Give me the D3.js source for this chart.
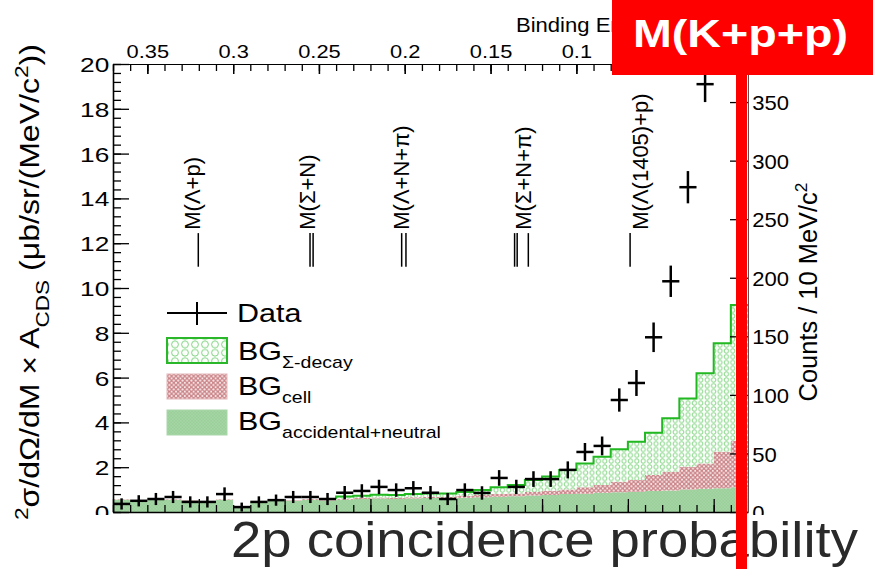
<!DOCTYPE html>
<html>
<head>
<meta charset="utf-8">
<script src="https://cdn.jsdelivr.net/npm/d3@7"></script>
<style>
  html, body { margin: 0; padding: 0; background: #fff; }
  svg { display: block; }
  text { font-family: "Liberation Sans", Arial, Helvetica, sans-serif; }
</style>
</head>
<body>
<svg id="chart" width="873" height="569"></svg>
<script>
// ---- Binning of the K+p+p invariant mass (GeV/c^2), 10 MeV/c^2 bins ----
const massRange = [2.00, 2.37];
const binWidth = 0.01;
const kppThreshold = 2.37;   // M(K+p+p): binding energy = threshold - mass

// ---- Measured spectrum (ub/sr/(MeV/c^2)) and its errors, one entry per bin ----
const dataValues = [0.36, 0.50, 0.58, 0.67, 0.45, 0.45, 0.80, 0.22, 0.45, 0.53,
                    0.67, 0.67, 0.58, 0.86, 0.94, 1.12, 0.98, 1.06, 0.86, 0.58,
                    0.98, 0.85, 1.52, 1.12, 1.47, 1.47, 1.88, 2.68, 2.95, 5.00,
                    5.76, 7.80, 10.30, 14.50, 19.10];
const dataErrors = [0.25, 0.25, 0.27, 0.27, 0.25, 0.25, 0.30, 0.20, 0.25, 0.25,
                    0.27, 0.27, 0.27, 0.30, 0.30, 0.32, 0.30, 0.32, 0.30, 0.27,
                    0.30, 0.30, 0.35, 0.32, 0.35, 0.35, 0.38, 0.40, 0.42, 0.52,
                    0.58, 0.66, 0.70, 0.72, 0.80];

// ---- Background components (stacked) ----
const bgAccidental = [0.55, 0.50, 0.55, 0.55, 0.50, 0.45, 0.55, 0.25, 0.45, 0.50,
                      0.50, 0.55, 0.50, 0.55, 0.58, 0.60, 0.58, 0.60, 0.62, 0.60,
                      0.64, 0.66, 0.68, 0.70, 0.74, 0.76, 0.80, 0.82, 0.86, 0.88,
                      0.90, 0.94, 0.96, 1.00, 1.04, 1.06, 1.10];
const bgCell = [0.02, 0.02, 0.02, 0.02, 0.02, 0.02, 0.02, 0.02, 0.03, 0.03,
                0.03, 0.03, 0.03, 0.04, 0.04, 0.05, 0.05, 0.06, 0.06, 0.07,
                0.08, 0.10, 0.12, 0.13, 0.15, 0.19, 0.21, 0.28, 0.34, 0.47,
                0.53, 0.71, 0.84, 1.02, 1.13, 1.63, 2.07];
const bgSigmaDecay = [0, 0, 0, 0, 0, 0, 0, 0, 0, 0,
                      0, 0, 0, 0.10, 0.11, 0.12, 0.13, 0.14, 0.15, 0.16,
                      0.17, 0.22, 0.30, 0.37, 0.54, 0.63, 0.87, 1.07, 1.27, 1.45,
                      1.71, 1.89, 2.38, 3.05, 4.02, 4.84, 6.07];

// ---- Threshold markers ----
const thresholdLabels = ["M(\u039B+p)", "M(\u03A3+N)", "M(\u039B+N+\u03C0)", "M(\u03A3+N+\u03C0)", "M(\u039B(1405)+p)"];
const thresholdLabelMass = [2.0460, 2.1133, 2.1681, 2.2392, 2.3070];
const thresholdLineMass = [[2.0497], [2.1148, 2.1166], [2.1682, 2.1707], [2.2340, 2.2355, 2.2420], [2.3013]];

// ---- Axis ticks ----
const yTicks = [0, 2, 4, 6, 8, 10, 12, 14, 16, 18, 20];
const countTicks = [0, 50, 100, 150, 200, 250, 300, 350];
const bindingTicks = [0.35, 0.3, 0.25, 0.2, 0.15, 0.1, 0.05, 0];
const bindingTickLabels = [0.35, 0.3, 0.25, 0.2, 0.15, 0.1];
const massMajorTicks = [2.00, 2.05, 2.10, 2.15, 2.20, 2.25, 2.30, 2.35];
const countsPerUnit = 19.125;   // counts per (ub/sr/(MeV/c^2)) for the right-hand scale

// ---- Layout ----
const W = 873, H = 569;
const plot = { left: 113, right: 748, top: 64, bottom: 512 };
const markerLine = [10.95, 12.45];   // vertical extent of marker lines (left-axis units)
const markerLabelStart = 12.6;

const svg = d3.select("#chart");

const x = d3.scaleLinear().domain(massRange).range([plot.left, plot.right]);
const xBE = d3.scaleLinear().domain([kppThreshold - massRange[0], kppThreshold - massRange[1]])
  .range([plot.left, plot.right]);
const y = d3.scaleLinear().domain([0, 20]).range([plot.bottom, plot.top]);
const yR = d3.scaleLinear().domain([0, 20 * countsPerUnit]).range([plot.bottom, plot.top]);

const nBins = bgAccidental.length;
const edges = d3.range(nBins + 1).map(i => massRange[0] + i * binWidth);

// ---- Fill patterns ----
const defs = svg.append("defs");
function circlePattern(id, w, h, r) {
  const p = defs.append("pattern").attr("id", id).attr("patternUnits", "userSpaceOnUse")
    .attr("width", w).attr("height", h);
  p.append("rect").attr("width", w).attr("height", h).attr("fill", "#fcfffc");
  p.append("circle").attr("cx", w / 2).attr("cy", h / 2).attr("r", r)
    .attr("fill", "none").attr("stroke", "#6fcc6f").attr("stroke-width", 0.85);
}
circlePattern("pSigma", 6.4, 5.8, 2.2);
circlePattern("pSigmaLeg", 10, 8.3, 3.4);

function dotPattern(id, s, base, dot, r) {
  const p = defs.append("pattern").attr("id", id).attr("patternUnits", "userSpaceOnUse")
    .attr("width", s).attr("height", s);
  p.append("rect").attr("width", s).attr("height", s).attr("fill", base);
  [[0, 0], [s, 0], [0, s], [s, s], [s / 2, s / 2]].forEach(([cx, cy]) =>
    p.append("circle").attr("cx", cx).attr("cy", cy).attr("r", r).attr("fill", dot));
}
dotPattern("pCell", 4.4, "#cb8387", "#f6e8e8", 1.05);
dotPattern("pAcc", 3.2, "#99cf99", "#b9e0b9", 0.6);

defs.append("clipPath").attr("id", "plotClip").append("rect")
  .attr("x", plot.left).attr("y", plot.top)
  .attr("width", plot.right - plot.left).attr("height", plot.bottom - plot.top);

// ---- Stacked backgrounds ----
const rows = bgAccidental.map((a, i) => ({ acc: a, cell: bgCell[i], sigma: bgSigmaDecay[i] }));
const layers = d3.stack().keys(["acc", "cell", "sigma"])(rows);
const layerFill = { acc: "url(#pAcc)", cell: "url(#pCell)", sigma: "url(#pSigma)" };

const area = d3.area().curve(d3.curveStepAfter)
  .x(d => x(d.m)).y0(d => y(d.lo)).y1(d => y(d.hi));

const gHist = svg.append("g").attr("clip-path", "url(#plotClip)");
layers.forEach(layer => {
  const pts = layer.map((d, i) => ({ m: edges[i], lo: d[0], hi: d[1] }));
  const last = layer[layer.length - 1];
  pts.push({ m: edges[nBins], lo: last[0], hi: last[1] });
  gHist.append("path").datum(pts).attr("d", area).attr("fill", layerFill[layer.key]);
});

// Outline of the Sigma-decay component (drawn where it is present)
const sigmaLayer = layers[2];
const firstSigma = bgSigmaDecay.findIndex(v => v > 0);
const outlinePts = [{ m: edges[firstSigma], v: sigmaLayer[firstSigma][0] }];
for (let i = firstSigma; i < nBins; i++) outlinePts.push({ m: edges[i], v: sigmaLayer[i][1] });
outlinePts.push({ m: edges[nBins], v: sigmaLayer[nBins - 1][1] });
gHist.append("path").datum(outlinePts)
  .attr("d", d3.line().curve(d3.curveStepAfter).x(d => x(d.m)).y(d => y(d.v)))
  .attr("fill", "none").attr("stroke", "#22b822").attr("stroke-width", 2);

// ---- Axes ----
function styleAxis(g) {
  g.selectAll("path.domain").attr("stroke", "#000").attr("stroke-width", 1.3);
  g.selectAll(".tick line").attr("stroke", "#000").attr("stroke-width", 1.3);
  g.selectAll(".tick text").attr("fill", "#000");
}

// left axis: minor + major, ticks pointing inward
svg.append("g").attr("transform", `translate(${plot.left},0)`)
  .call(d3.axisLeft(y).tickValues(d3.range(0, 20.001, 0.4)).tickSize(-8).tickFormat(""))
  .call(styleAxis).call(g => g.select(".domain").remove());
const gLeft = svg.append("g").attr("transform", `translate(${plot.left},0)`)
  .call(d3.axisLeft(y).tickValues(yTicks).tickSize(-16).tickSizeOuter(0).tickPadding(3).tickFormat(d3.format("d")))
  .call(styleAxis);
gLeft.selectAll(".tick text").attr("font-size", 21).attr("dy", "0.36em")
  .attr("transform", "scale(1.25,1)");
gLeft.select(".domain").attr("stroke-width", 1.6);

// bottom axis (ticks only)
svg.append("g").attr("transform", `translate(0,${plot.bottom})`)
  .call(d3.axisBottom(x).tickValues(edges.slice(0, nBins)).tickSize(-7).tickFormat(""))
  .call(styleAxis).call(g => g.select(".domain").remove());
svg.append("g").attr("transform", `translate(0,${plot.bottom})`)
  .call(d3.axisBottom(x).tickValues(massMajorTicks).tickSize(-13).tickSizeOuter(0).tickFormat(""))
  .call(styleAxis).call(g => g.select(".domain").attr("stroke-width", 1.6));

// top axis: binding energy (GeV)
svg.append("g").attr("transform", `translate(0,${plot.top})`)
  .call(d3.axisTop(xBE).tickValues(d3.range(0, 0.3701, 0.01)).tickSize(-7).tickFormat(""))
  .call(styleAxis).call(g => g.select(".domain").remove());
svg.append("g").attr("transform", `translate(0,${plot.top})`)
  .call(d3.axisTop(xBE).tickValues(bindingTicks).tickSize(-10).tickFormat(""))
  .call(styleAxis).call(g => g.select(".domain").remove());
const gTop = svg.append("g").attr("transform", `translate(0,${plot.top})`)
  .call(d3.axisTop(xBE).tickValues(bindingTickLabels).tickSize(-10).tickSizeOuter(0).tickPadding(6)
    .tickFormat(d3.format("~g")))
  .call(styleAxis);
gTop.selectAll(".tick text").attr("font-size", 19).attr("transform", "scale(1.15,1)");
gTop.select(".domain").attr("stroke-width", 1.1);

svg.append("text").attr("transform", "translate(516,32) scale(1.05,1)")
  .attr("font-size", 21).attr("fill", "#000").text("Binding Energy (GeV)");

// right axis: counts
const gRight = svg.append("g").attr("transform", `translate(${plot.right},0)`)
  .call(d3.axisRight(yR).tickValues(countTicks).tickSize(-18).tickSizeOuter(0).tickPadding(4))
  .call(styleAxis);
gRight.selectAll(".tick text").attr("font-size", 21).attr("dy", "0.36em")
  .attr("transform", "scale(1.05,1)");
gRight.select(".domain").attr("stroke", "#555").attr("stroke-width", 1);

// fit helper: stretch a text along its own direction to a given length
function fitLength(sel, target) {
  sel.each(function () {
    const w = this.getComputedTextLength();
    const t = d3.select(this).attr("transform") || "";
    d3.select(this).attr("transform", `${t} scale(${target / w},1)`);
  });
}

// right axis title
const rTitle = svg.append("text").attr("transform", "translate(816.5,292) rotate(-90)")
  .attr("text-anchor", "middle").attr("font-size", 25).attr("fill", "#000");
rTitle.append("tspan").text("Counts / 10 MeV/c");
rTitle.append("tspan").attr("baseline-shift", "super").attr("font-size", 17).text("2");
fitLength(rTitle, 219);

// left axis title
const lTitle = svg.append("text").attr("transform", "translate(38.5,520) rotate(-90)")
  .attr("font-size", 27).attr("fill", "#000");
lTitle.append("tspan").attr("baseline-shift", "super").attr("font-size", 19).text("2");
lTitle.append("tspan").text("\u03C3/d\u03A9/dM \u00D7 A");
lTitle.append("tspan").attr("baseline-shift", "sub").attr("font-size", 19).text("CDS");
lTitle.append("tspan").text(" (\u03BCb/sr/(MeV/c");
lTitle.append("tspan").attr("baseline-shift", "super").attr("font-size", 19).text("2");
lTitle.append("tspan").text("))");
fitLength(lTitle, 476);

// ---- Threshold markers ----
const gMark = svg.append("g");
thresholdLineMass.forEach((ms, k) => {
  ms.forEach(m => gMark.append("line")
    .attr("x1", x(m)).attr("x2", x(m)).attr("y1", y(markerLine[0])).attr("y2", y(markerLine[1]))
    .attr("stroke", "#000").attr("stroke-width", 1.5));
  gMark.append("text")
    .attr("transform", `translate(${x(thresholdLabelMass[k])},${y(markerLabelStart)}) rotate(-90)`)
    .attr("dy", "0.36em").attr("font-size", 22).attr("fill", "#000")
    .text(thresholdLabels[k]);
});

// ---- Data points ----
const gData = svg.append("g").attr("clip-path", "url(#plotClip)")
  .attr("stroke", "#000").attr("stroke-width", 2.5);
dataValues.forEach((v, i) => {
  gData.append("line").attr("x1", x(edges[i])).attr("x2", x(edges[i + 1]))
    .attr("y1", y(v)).attr("y2", y(v));
  const xc = x((edges[i] + edges[i + 1]) / 2);
  gData.append("line").attr("x1", xc).attr("x2", xc)
    .attr("y1", y(v - dataErrors[i])).attr("y2", y(v + dataErrors[i]));
});

// ---- Legend ----
const leg = svg.append("g");
const legBox = { x: 167, w: 60, h: 25 };
leg.append("line").attr("x1", legBox.x).attr("x2", legBox.x + legBox.w).attr("y1", 313).attr("y2", 313)
  .attr("stroke", "#000").attr("stroke-width", 2);
leg.append("line").attr("x1", legBox.x + legBox.w / 2).attr("x2", legBox.x + legBox.w / 2)
  .attr("y1", 302).attr("y2", 325).attr("stroke", "#000").attr("stroke-width", 2);
leg.append("text").attr("transform", "translate(237,322) scale(1.22,1)")
  .attr("font-size", 25).attr("fill", "#000").text("Data");

const legEntries = [
  { y: 338, fill: "url(#pSigmaLeg)", stroke: "#2ab82a", sw: 2, sub: "\u03A3-decay", base: 360 },
  { y: 374, fill: "url(#pCell)", stroke: "#e3b5b7", sw: 1, sub: "cell", base: 395 },
  { y: 410, fill: "url(#pAcc)", stroke: "#a9d6a9", sw: 1, sub: "accidental+neutral", base: 430 }
];
legEntries.forEach(e => {
  leg.append("rect").attr("x", legBox.x).attr("y", e.y).attr("width", legBox.w).attr("height", legBox.h)
    .attr("fill", e.fill).attr("stroke", e.stroke).attr("stroke-width", e.sw);
  const t = leg.append("text").attr("transform", `translate(238,${e.base}) scale(1.22,1)`)
    .attr("font-size", 25).attr("fill", "#000");
  t.append("tspan").text("BG");
  t.append("tspan").attr("font-size", 16).attr("dy", 8).text(e.sub);
});

// ---- Lower band with caption ----
svg.append("rect").attr("x", 60).attr("y", 515).attr("width", W - 60).attr("height", H - 515)
  .attr("fill", "#fff");
const caption = svg.append("text").attr("transform", "translate(231,557)")
  .attr("font-size", 50).attr("fill", "#2a2a2a").text("2p coincidence probability");
fitLength(caption, 627);

// ---- Threshold annotation ----
svg.append("rect").attr("x", 612).attr("y", 0).attr("width", W - 612).attr("height", 75).attr("fill", "#ff0000");
svg.append("rect").attr("x", 736).attr("y", 75).attr("width", 11).attr("height", H - 75).attr("fill", "#ff0000");
const kpp = svg.append("text").attr("transform", "translate(633,47)")
  .attr("font-family", "'Open Sans', Lato, sans-serif").attr("font-weight", 700)
  .attr("font-size", 38).attr("fill", "#fff").text("M(K+p+p)");
fitLength(kpp, 215);
</script>
</body>
</html>
